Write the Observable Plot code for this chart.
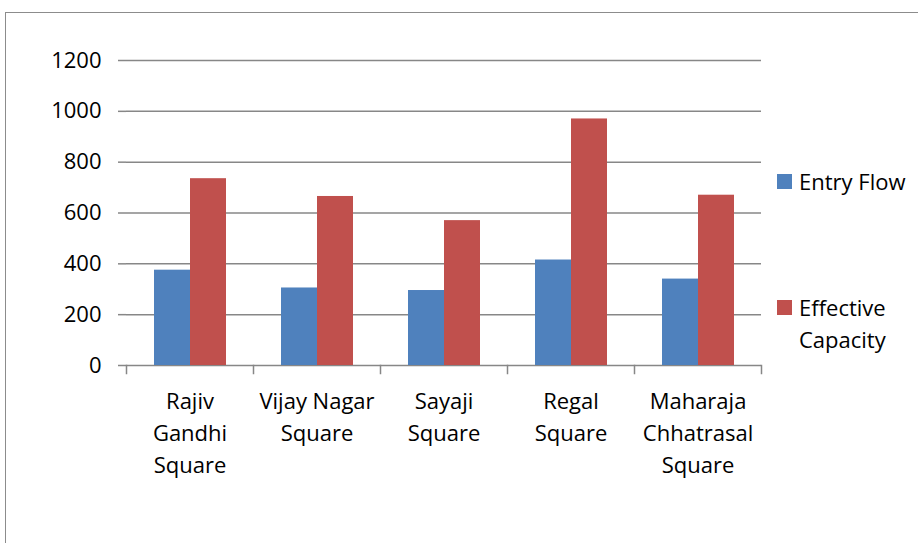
<!DOCTYPE html>
<html>
<head>
<meta charset="utf-8">
<script src="https://cdn.jsdelivr.net/npm/d3@7"></script>
<script src="https://cdn.jsdelivr.net/npm/@observablehq/plot@0.6"></script>
<style>
  html, body { margin: 0; padding: 0; background: #fff; }
  #wrap { position: relative; width: 918px; height: 543px; overflow: hidden; background: #fff; font-family: "Open Sans", sans-serif; }
  #border { position: absolute; left: 5px; top: 12px; width: 1200px; height: 1000px; border: 1.5px solid #8c8c8c; }
  #chart { position: absolute; left: 0; top: 0; }
  #legend { position: absolute; left: 777px; top: 165px; font-size: 22px; color: #000; }
  .item { display: flex; align-items: flex-start; line-height: 32px; }
  .swatch { width: 15px; height: 15px; margin-top: 9px; margin-right: 7px; flex: none; }
</style>
</head>
<body>
<div id="wrap">
  <div id="border"></div>
  <div id="chart"></div>
  <div id="legend"></div>
</div>
<script>
const categories = ["Rajiv Gandhi Square", "Vijay Nagar Square", "Sayaji Square", "Regal Square", "Maharaja Chhatrasal Square"];
const categoryLabels = ["Rajiv\nGandhi\nSquare", "Vijay Nagar\nSquare", "Sayaji\nSquare", "Regal\nSquare", "Maharaja\nChhatrasal\nSquare"];
const seriesNames = ["Entry Flow", "Effective Capacity"];
const legendLabels = ["Entry Flow", "Effective<br>Capacity"];
const seriesColors = ["#4f81bd", "#c0504d"];
const entryFlow = [375, 305, 295, 415, 340];
const effectiveCapacity = [735, 665, 570, 970, 670];
const yTicks = [0, 200, 400, 600, 800, 1000, 1200];

const rows = categories.flatMap((c, i) => [
  {category: c, series: seriesNames[0], value: entryFlow[i]},
  {category: c, series: seriesNames[1], value: effectiveCapacity[i]}
]);

const W = 918, H = 543, mt = 60, mb = 178, ml = 125, mr = 157;
const plotH = H - mt - mb;
const gray = "#878787";

const chart = Plot.plot({
  width: W, height: H,
  marginTop: mt, marginBottom: mb, marginLeft: ml, marginRight: mr,
  style: {fontFamily: "Open Sans, sans-serif", fontSize: "22px", color: "#000", background: "transparent", overflow: "visible"},
  fx: {domain: categories, padding: 0, axis: null, label: null},
  x: {domain: seriesNames, paddingInner: 0, paddingOuter: 0.74, axis: null},
  y: {domain: [0, 1200], axis: null},
  color: {domain: seriesNames, range: seriesColors},
  marks: [
    Plot.ruleY(yTicks, {stroke: gray, strokeWidth: 1.5}),
    Plot.barY(rows, {fx: "category", x: "series", y: "value", fill: "series"}),
    Plot.axisY({ticks: yTicks, tickFormat: "d", tickSize: 8, tickPadding: 17, line: true, stroke: gray, strokeWidth: 1.5, strokeOpacity: 1, label: null, fill: "#000"}),
    Plot.frame({anchor: "left", stroke: gray, strokeWidth: 1.5, insetTop: plotH, insetBottom: -8}),
    Plot.frame({anchor: "right", facetAnchor: "right", stroke: gray, strokeWidth: 1.5, insetTop: plotH, insetBottom: -8}),
    Plot.axisFx({anchor: "bottom", tickSize: 0, tickPadding: 21, lineHeight: 1.45, label: null, fill: "#000",
      tickFormat: (d) => categoryLabels[categories.indexOf(d)]})
  ]
});
document.getElementById("chart").appendChild(chart);

const legend = document.getElementById("legend");
seriesNames.forEach((s, i) => {
  const item = document.createElement("div");
  item.className = "item";
  if (i > 0) item.style.marginTop = "94px";
  item.innerHTML = `<span class="swatch" style="background:${seriesColors[i]}"></span><span>${legendLabels[i]}</span>`;
  legend.appendChild(item);
});
</script>
</body>
</html>
